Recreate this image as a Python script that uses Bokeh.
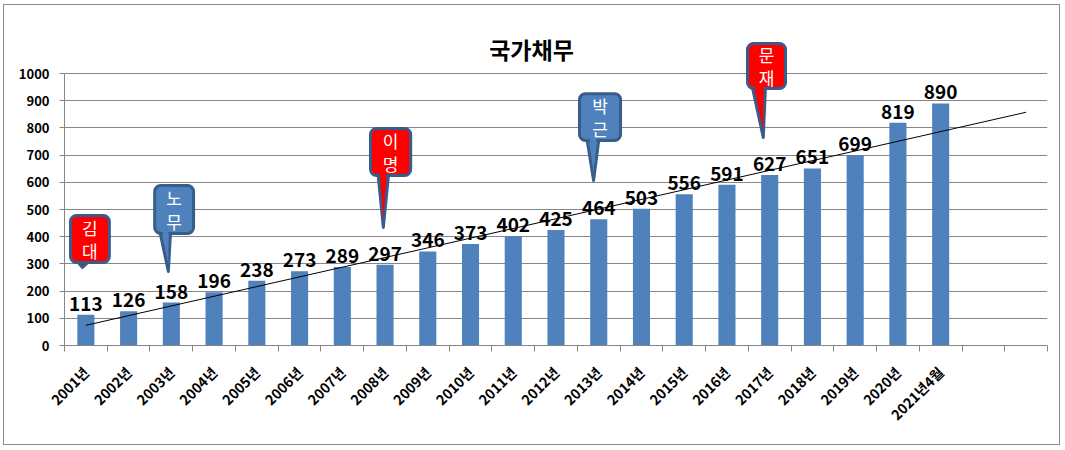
import numpy as np
from bokeh.plotting import figure
from bokeh.models import Range1d, FixedTicker, Label
from bokeh.core.properties import value
from bokeh.embed import file_html
from bokeh.resources import INLINE

# ---------------- data ----------------
title_text = "국가채무"
categories = ["2001년", "2002년", "2003년", "2004년", "2005년", "2006년", "2007년",
              "2008년", "2009년", "2010년", "2011년", "2012년", "2013년", "2014년",
              "2015년", "2016년", "2017년", "2018년", "2019년", "2020년", "2021년4월"]
debt = [113, 126, 158, 196, 238, 273, 289, 297, 346, 373, 402, 425, 464, 503,
        556, 591, 627, 651, 699, 819, 890]
n_slots = 23  # two empty category slots on the right
y_ticks = list(range(0, 1001, 100))

callout_text = ["김대", "노무", "이명", "박근", "문재"]
callout_fill = ["#FF0000", "#4F81BD", "#FF0000", "#4F81BD", "#FF0000"]
callout_left = [0.14, 2.11, 7.16, 12.05, 15.98]
callout_right = [1.05, 3.02, 8.10, 13.01, 16.87]
callout_top = [478, 588, 798, 926, 1110]
callout_bottom = [305, 412, 625, 754, 945]
callout_base_l = [0.32, 2.24, 7.34, 12.23, 16.10]
callout_base_r = [0.54, 2.48, 7.58, 12.50, 16.40]
callout_tip_x = [0.42, 2.43, 7.46, 12.38, 16.35]
callout_tip_y = [287, 272, 434, 607, 765]

FONT = "Noto Sans CJK KR"
BAR = "#4F81BD"
GRID = "#868686"
EDGE = "#385D8A"

# ---------------- figure ----------------
W, H = 1057, 441
frame_top = 9
frame_bottom = 340
frame_h = frame_bottom - frame_top
y_end = 1000.0 * frame_h / 272.0

p = figure(width=W, height=H, output_backend="svg", toolbar_location=None,
           x_range=Range1d(0, n_slots), y_range=Range1d(0, y_end),
           min_border_left=60, min_border_right=14, min_border_top=frame_top,
           min_border_bottom=H - frame_bottom)
p.styles = {"border": "1px solid #8c8c8c", "margin-left": "3px", "margin-top": "4px"}
p.outline_line_color = None
p.background_fill_color = "white"
p.border_fill_color = "white"

centers = [i + 0.5 for i in range(len(debt))]
all_centers = [i + 0.5 for i in range(n_slots)]

# axes
p.xaxis.ticker = FixedTicker(ticks=all_centers, minor_ticks=list(range(n_slots + 1)))
labels_all = categories + [""] * (n_slots - len(categories))
p.xaxis.major_label_overrides = {c: l for c, l in zip(all_centers, labels_all)}
p.xaxis.major_label_orientation = np.pi / 4
p.xaxis.major_tick_line_color = None
p.xaxis.minor_tick_in = 0
p.xaxis.minor_tick_out = 6
p.xaxis.minor_tick_line_color = GRID
p.xaxis.axis_line_color = GRID
p.xaxis.major_label_text_font = FONT
p.xaxis.major_label_text_font_style = "bold"
p.xaxis.major_label_text_font_size = "14px"
p.xaxis.major_label_text_color = "black"
p.xaxis.major_label_standoff = 18

p.yaxis.ticker = FixedTicker(ticks=y_ticks)
p.yaxis.bounds = (0, 1000)
p.yaxis.axis_line_color = GRID
p.yaxis.major_tick_line_color = GRID
p.yaxis.major_tick_in = 0
p.yaxis.major_tick_out = 5
p.yaxis.minor_tick_line_color = None
p.yaxis.major_label_text_font = FONT
p.yaxis.major_label_text_font_style = "bold"
p.yaxis.major_label_text_font_size = "13px"
p.yaxis.major_label_text_color = "black"
p.yaxis.major_label_standoff = 10

p.xgrid.visible = False
p.ygrid.ticker = FixedTicker(ticks=y_ticks)
p.ygrid.grid_line_color = GRID

# bars
p.vbar(x=centers, top=debt, width=0.4, fill_color=BAR, line_color=None)

# data labels
p.text(x=centers, y=debt, text=[str(v) for v in debt], text_align="center",
       text_baseline="alphabetic", y_offset=-11, text_font=value(FONT),
       text_font_style="bold", text_font_size="19px", text_color="black")

# linear trendline (fitted on the data, extended 2 periods forward)
idx = np.arange(1, len(debt) + 1)
slope, intercept = np.polyfit(idx, np.array(debt, dtype=float), 1)
tx = [0.5, n_slots - 0.5]
ty = [slope * 1 + intercept, slope * n_slots + intercept]
p.line(tx, ty, line_color="black", line_width=1)

# callouts
for i in range(len(callout_text)):
    bl, br = callout_base_l[i], callout_base_r[i]
    bot, top = callout_bottom[i], callout_top[i]
    tipx, tipy = callout_tip_x[i], callout_tip_y[i]
    fill = callout_fill[i]
    p.patch([bl, tipx, br], [bot, tipy, bot], fill_color=fill, line_color=EDGE,
            line_width=3, line_join="round")
    p.quad(left=[callout_left[i]], right=[callout_right[i]], top=[top], bottom=[bot],
           fill_color=fill, line_color=EDGE, line_width=3, border_radius=6)
    p.patch([bl + 0.05, tipx, br - 0.05], [bot + 14, tipy + 25, bot + 14],
            fill_color=fill, line_color=None)
    cx = (callout_left[i] + callout_right[i]) / 2
    hgt = top - bot
    chars = list(callout_text[i])
    p.text(x=[cx, cx], y=[top - 0.25 * hgt, top - 0.75 * hgt], text=chars,
           text_align="center", text_baseline="middle", text_font=value(FONT),
           text_font_size="17px", text_color="white")

# title
p.add_layout(Label(x=(531 - 64) / 42.74, y=(345 - 48) / 0.272, text=title_text,
                   text_align="center", text_baseline="alphabetic",
                   text_font=FONT, text_font_style="bold", text_font_size="23px",
                   text_color="black"))

open("out.html", "w").write(file_html(p, INLINE))
